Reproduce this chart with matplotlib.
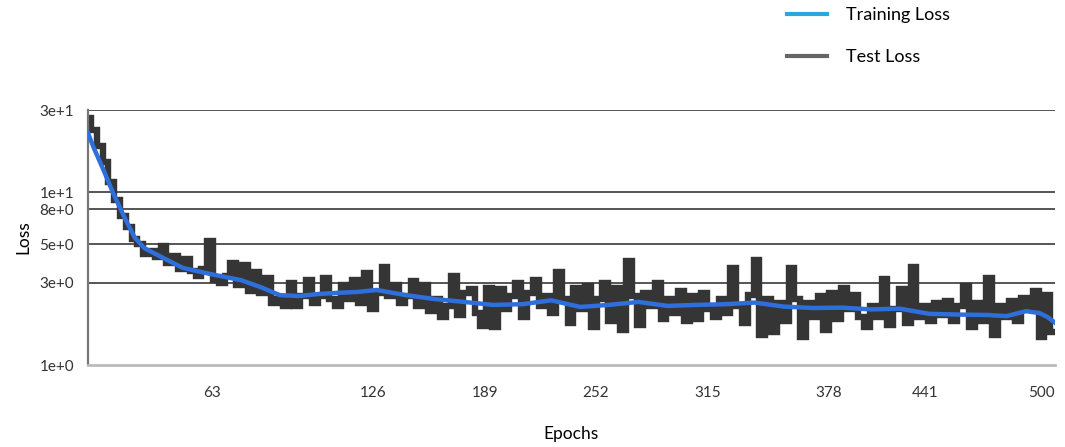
import numpy as np
import matplotlib
matplotlib.use('Agg')
import matplotlib.pyplot as plt
from matplotlib.lines import Line2D

plt.rcParams['font.family'] = ['Lato', 'DejaVu Sans']

# training loss (smooth curve)
train_epochs = [1, 4, 9, 14, 20, 25, 30, 40, 50, 65, 80, 90, 100, 110, 120, 130, 140, 150,
                165, 180, 195, 210, 225, 240, 255, 270, 285, 300, 315, 330, 345, 360, 375,
                390, 405, 420, 435, 450, 465, 475, 485, 492, 496, 500]
train_loss = [22.1, 18.1, 13.5, 9.9, 7.1, 5.5, 4.76, 4.16, 3.65, 3.35, 3.1, 2.83, 2.54, 2.51,
              2.58, 2.62, 2.65, 2.72, 2.54, 2.41, 2.32, 2.23, 2.25, 2.37, 2.17, 2.23, 2.32,
              2.2, 2.23, 2.25, 2.3, 2.18, 2.14, 2.15, 2.1, 2.12, 1.98, 1.96, 1.95, 1.92,
              2.05, 2.0, 1.9, 1.76]

# test loss, every 3rd epoch
test_epochs = np.arange(1, 500, 3)
test_loss = [27, 23, 18.5, 15, 11.5, 9.0, 7.3, 6.3, 5.4, 5.0,
             4.4, 4.6, 4.2, 4.9, 3.9, 4.3, 3.6, 4.1, 3.5, 3.3,
             3.6, 5.2, 3.1, 3.0, 3.3, 3.9, 2.9, 3.8, 2.7, 3.45,
             2.6, 3.2, 2.3, 2.4, 2.2, 3.0, 2.2, 2.5, 3.1, 2.3,
             2.5, 3.2, 2.4, 2.2, 2.9, 2.4, 3.1, 2.3, 3.4, 2.1,
             2.6, 3.7, 2.5, 2.9, 2.3, 2.5, 3.05, 2.2, 2.9, 2.05,
             2.4, 1.9, 2.2, 3.3, 1.95, 2.6, 2.75, 2.0, 1.68, 2.8,
             1.65, 2.75, 2.1, 2.5, 3.0, 1.9, 2.6, 3.1, 2.2, 2.5,
             2.0, 3.45, 2.4, 1.75, 2.8, 2.1, 2.85, 1.65, 2.4, 3.0,
             1.8, 2.8, 1.6, 4.0, 2.5, 1.7, 2.6, 2.2, 3.0, 1.85,
             2.4, 2.0, 2.7, 1.8, 2.5, 1.85, 2.6, 2.1, 1.9, 2.4,
             2.0, 3.65, 2.2, 1.75, 2.55, 4.05, 1.5, 2.4, 1.55, 2.3,
             1.8, 3.65, 2.4, 1.45, 2.3, 1.9, 2.5, 1.6, 2.6, 1.85,
             2.8, 2.1, 2.55, 1.9, 1.65, 2.2, 1.9, 3.15, 1.7, 2.1,
             2.75, 1.75, 3.7, 1.9, 2.2, 1.8, 2.3, 1.95, 2.35, 1.8,
             2.2, 2.85, 1.65, 2.3, 1.8, 3.2, 1.5, 2.2, 1.9, 2.35,
             1.8, 2.45, 2.1, 2.7, 1.45, 2.55, 1.55]

y_ticks = [1, 3, 5, 8, 10, 30]
y_labels = ['1e+0', '3e+0', '5e+0', '8e+0', '1e+1', '3e+1']
x_tick_pos = [65, 148, 206, 263, 321, 383, 433, 493]
x_labels = ['63', '126', '189', '252', '315', '378', '441', '500']

fig = plt.figure(figsize=(10.65, 4.47), dpi=100)
ax = fig.add_axes([0.0826, 0.1834, 0.908, 0.5705])

ax.set_yscale('log')
ax.set_ylim(1, 30)
ax.set_xlim(1, 500)

for v in y_ticks[1:]:
    ax.axhline(v, color='#555555', lw=1.4, zorder=1)

ax.plot(test_epochs, test_loss, color='#353535', lw=4.6, drawstyle='steps-mid',
        solid_joinstyle='miter', zorder=2)
ax.plot(train_epochs, train_loss, color='#2f6fdc', lw=3.2, zorder=3)

ax.set_yticks(y_ticks)
ax.set_yticklabels(y_labels)
ax.yaxis.set_minor_locator(matplotlib.ticker.NullLocator())
ax.set_xticks(x_tick_pos)
ax.set_xticklabels(x_labels)
ax.tick_params(axis='both', length=0, labelsize=11, colors='#333333')
ax.tick_params(axis='x', pad=15)
ax.tick_params(axis='y', pad=10)

for s in ['top', 'right']:
    ax.spines[s].set_visible(False)
ax.spines['left'].set_color('#777777')
ax.spines['left'].set_linewidth(1.6)
ax.spines['bottom'].set_color('#bbbbbb')
ax.spines['bottom'].set_linewidth(2)

ax.set_ylabel('Loss', fontsize=12.5, labelpad=6)
ax.set_xlabel('Epochs', fontsize=12.5, labelpad=19)

handles = [Line2D([], [], color='#29a8e0', lw=3),
           Line2D([], [], color='#666666', lw=3)]
fig.legend(handles, ['Training Loss', 'Test Loss'], loc='upper left',
           bbox_to_anchor=(0.727, 1.012), frameon=False, fontsize=13,
           handlelength=2.2, handletextpad=1.1, labelspacing=1.45, borderpad=0.2)

fig.savefig('out.png', dpi=100)
